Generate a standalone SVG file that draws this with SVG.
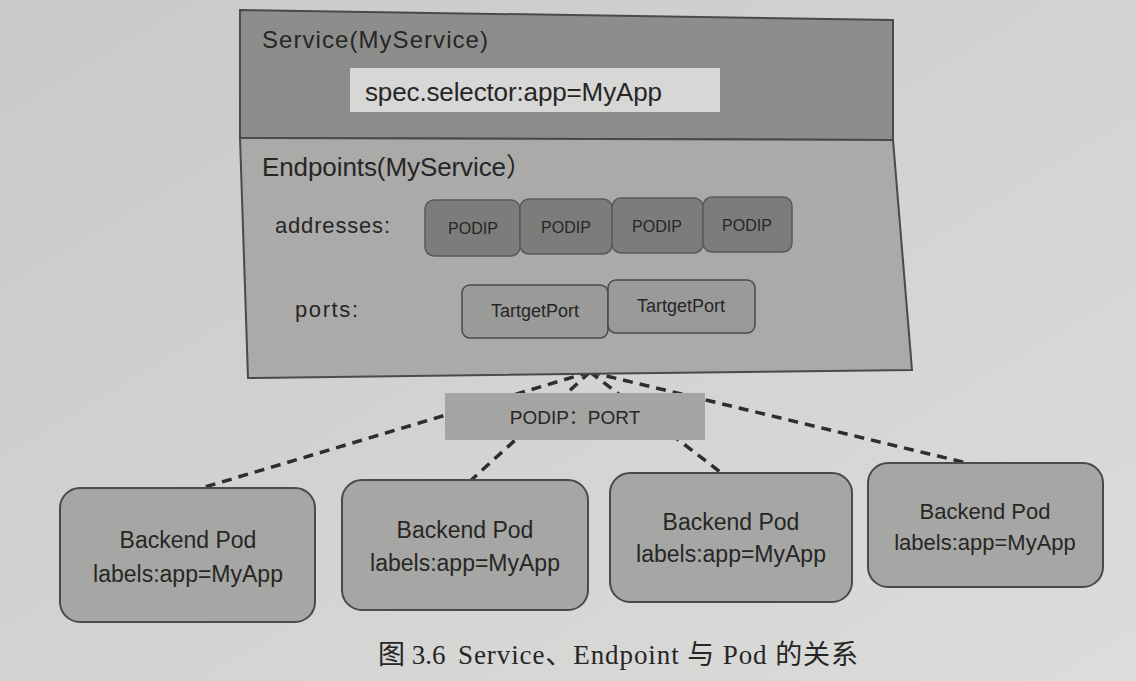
<svg xmlns="http://www.w3.org/2000/svg" width="1136" height="681" viewBox="0 0 1136 681">
<defs>
<linearGradient id="bg" x1="0" y1="0" x2="1" y2="1">
<stop offset="0" stop-color="#c9c9c7"/>
<stop offset="1" stop-color="#dcdcda"/>
</linearGradient>
</defs>
<style>
text{font-family:"Liberation Sans","Noto Sans CJK SC",sans-serif;fill:#262626}
.pod{fill:#a6a6a4;stroke:#4a4a4a;stroke-width:2}
.ip{fill:#7c7c7a;stroke:#5a5a58;stroke-width:1.5}
.tp{fill:#9a9a98;stroke:#4a4a4a;stroke-width:1.5}
.dash{stroke:#2e2e2e;stroke-width:3.5;stroke-dasharray:10 7;fill:none}
.c{text-anchor:middle}
.pt{font-size:23px}
.cap{font-family:"Liberation Serif","Noto Sans CJK SC",serif;font-size:27px}
</style>
<rect width="1136" height="681" fill="url(#bg)"/>
<g id="connectors">
<line class="dash" x1="590" y1="372" x2="195" y2="490"/>
<line class="dash" x1="590" y1="372" x2="468" y2="483"/>
<line class="dash" x1="590" y1="372" x2="728" y2="478"/>
<line class="dash" x1="590" y1="372" x2="975" y2="465"/>
</g>
<g id="service">
<polygon points="240,10 893,20 893,140 240,138" fill="#8d8d8b" stroke="#4a4a4a" stroke-width="2"/>
<text x="262" y="48" font-size="24" textLength="226">Service(MyService)</text>
<rect x="350" y="68" width="370" height="44" fill="#d7d7d5"/>
<text x="365" y="101" font-size="26" textLength="297">spec.selector:app=MyApp</text>
</g>
<g id="endpoints">
<polygon points="240,138 893,140 912,370 248,378" fill="#abaaa8" stroke="#4a4a4a" stroke-width="2"/>
<text x="262" y="176" font-size="26" textLength="270">Endpoints(MyService）</text>
<text x="275" y="233" font-size="22" textLength="115">addresses:</text>
<text x="295" y="317" font-size="22" textLength="63">ports:</text>
</g>
<g id="podips">
<rect class="ip" x="425" y="200" width="95" height="56" rx="9"/>
<rect class="ip" x="520" y="199" width="92" height="55" rx="9"/>
<rect class="ip" x="612" y="198" width="91" height="55" rx="9"/>
<rect class="ip" x="703" y="197" width="89" height="55" rx="9"/>
<text class="c" x="473" y="234" font-size="16">PODIP</text>
<text class="c" x="566" y="233" font-size="16">PODIP</text>
<text class="c" x="657" y="232" font-size="16">PODIP</text>
<text class="c" x="747" y="231" font-size="16">PODIP</text>
</g>
<g id="ports">
<rect class="tp" x="462" y="285" width="146" height="53" rx="8"/>
<rect class="tp" x="608" y="280" width="147" height="53" rx="8"/>
<text class="c" x="535" y="317" font-size="18">TartgetPort</text>
<text class="c" x="681" y="312" font-size="18">TartgetPort</text>
</g>
<g id="podip-port">
<rect x="445" y="393" width="260" height="47" fill="#a4a4a2"/>
<text class="c" x="575" y="424" font-size="19">PODIP：PORT</text>
</g>
<g id="pod1">
<rect class="pod" x="60" y="488" width="255" height="134" rx="20"/>
<text class="c pt" x="188" y="548">Backend Pod</text>
<text class="c pt" x="188" y="582">labels:app=MyApp</text>
</g>
<g id="pod2">
<rect class="pod" x="342" y="480" width="246" height="130" rx="20"/>
<text class="c pt" x="465" y="538">Backend Pod</text>
<text class="c pt" x="465" y="571">labels:app=MyApp</text>
</g>
<g id="pod3">
<rect class="pod" x="610" y="473" width="242" height="129" rx="20"/>
<text class="c pt" x="731" y="530">Backend Pod</text>
<text class="c pt" x="731" y="562">labels:app=MyApp</text>
</g>
<g id="pod4">
<rect class="pod" x="868" y="463" width="235" height="124" rx="20"/>
<text class="c" x="985" y="519" font-size="22">Backend Pod</text>
<text class="c" x="985" y="550" font-size="22">labels:app=MyApp</text>
</g>
<text class="cap" y="664"><tspan x="378">图 3.6</tspan><tspan x="458" textLength="400">Service、Endpoint 与 Pod 的关系</tspan></text>
</svg>
